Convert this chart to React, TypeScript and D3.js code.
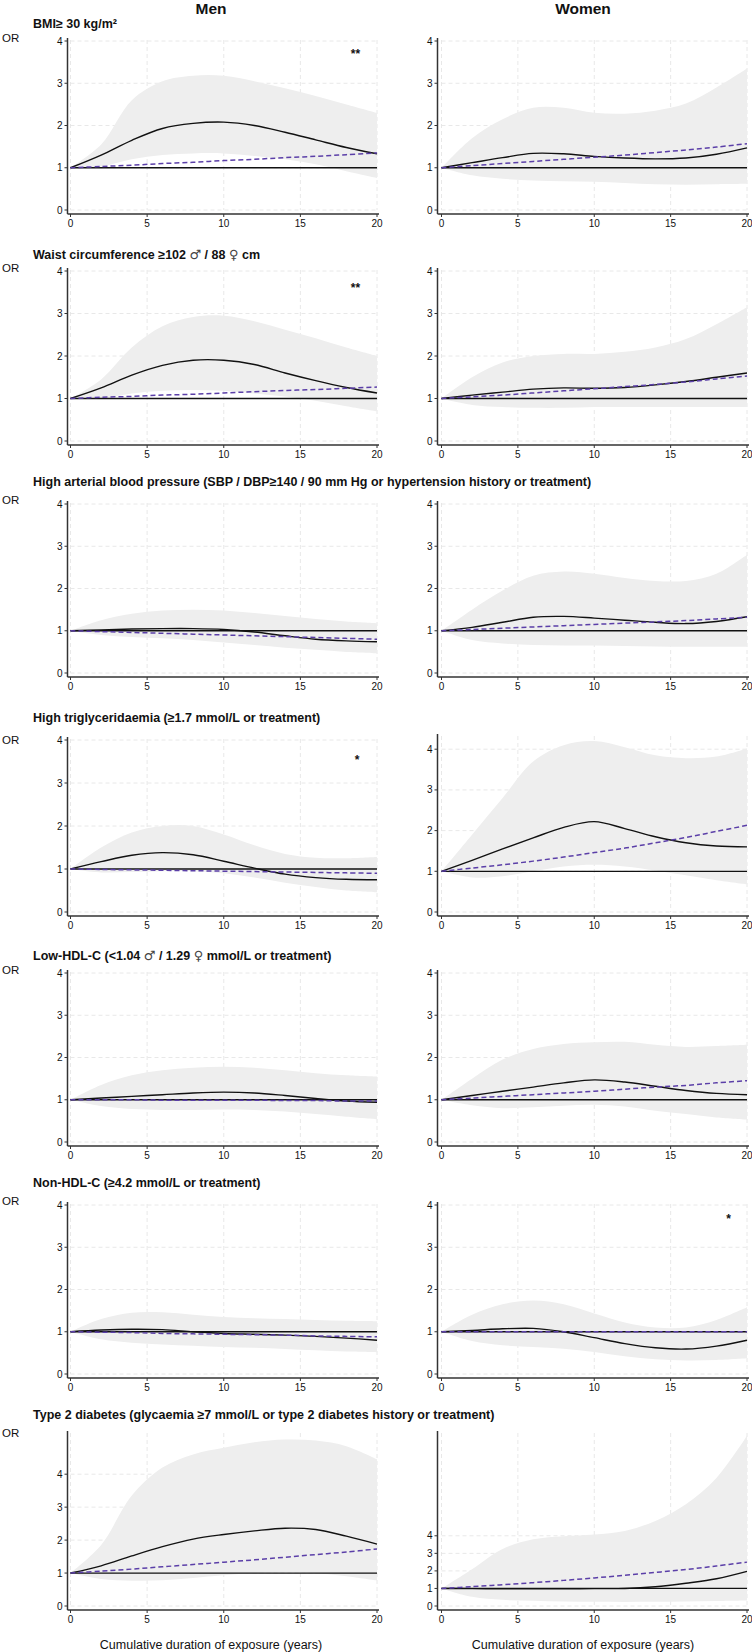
import React, { useEffect, useRef } from 'react';
import * as d3 from 'd3';

// cumulative duration of exposure (years) at which curves were read
const years = [0, 2, 4, 6, 8, 10, 12, 14, 16, 18, 20];
const xTicks = [0, 5, 10, 15, 20];
const yTicks = [0, 1, 2, 3, 4];
const sexes = ['Men', 'Women'];

const titles = [
  'BMI\u2265 30 kg/m\u00b2',
  'Waist circumference \u2265102 \u2642 / 88 \u2640 cm',
  'High arterial blood pressure (SBP / DBP\u2265140 / 90 mm Hg or hypertension history or treatment)',
  'High triglyceridaemia (\u22651.7 mmol/L or treatment)',
  'Low-HDL-C (<1.04 \u2642 / 1.29 \u2640 mmol/L or treatment)',
  'Non-HDL-C (\u22654.2 mmol/L or treatment)',
  'Type 2 diabetes (glycaemia \u22657 mmol/L or type 2 diabetes history or treatment)',
];

// OR (spline), OR (linear model), lower / upper 95% CI of spline
const bmiMen = {
  or: [1.0, 1.3, 1.65, 1.93, 2.05, 2.08, 2.0, 1.84, 1.66, 1.48, 1.33],
  linear: [1.0, 1.03, 1.06, 1.1, 1.13, 1.17, 1.2, 1.24, 1.27, 1.31, 1.35],
  lower: [1.0, 1.03, 1.2, 1.3, 1.34, 1.34, 1.28, 1.2, 1.08, 0.92, 0.76],
  upper: [1.0, 1.55, 2.6, 3.05, 3.18, 3.18, 3.05, 2.88, 2.7, 2.5, 2.3],
};
const bmiWomen = {
  or: [1.0, 1.12, 1.24, 1.34, 1.33, 1.27, 1.23, 1.21, 1.23, 1.32, 1.47],
  linear: [1.0, 1.05, 1.1, 1.15, 1.2, 1.25, 1.3, 1.36, 1.42, 1.49, 1.57],
  lower: [1.0, 0.82, 0.74, 0.7, 0.68, 0.67, 0.64, 0.61, 0.6, 0.61, 0.62],
  upper: [1.0, 1.7, 2.15, 2.42, 2.42, 2.3, 2.28, 2.35, 2.52, 2.9, 3.35],
};
const waistMen = {
  or: [1.0, 1.25, 1.55, 1.78, 1.9, 1.9, 1.8, 1.6, 1.42, 1.26, 1.13],
  linear: [1.0, 1.03, 1.05, 1.08, 1.1, 1.13, 1.16, 1.19, 1.21, 1.24, 1.27],
  lower: [1.0, 1.0, 1.12, 1.18, 1.2, 1.18, 1.12, 1.05, 0.95, 0.82, 0.7],
  upper: [1.0, 1.45, 2.2, 2.7, 2.92, 2.95, 2.82, 2.62, 2.42, 2.2, 2.0],
};
const waistWomen = {
  or: [1.0, 1.08, 1.15, 1.22, 1.25, 1.24, 1.26, 1.32, 1.4, 1.5, 1.6],
  linear: [1.0, 1.04, 1.08, 1.13, 1.18, 1.23, 1.28, 1.33, 1.39, 1.46, 1.53],
  lower: [1.0, 0.85, 0.8, 0.78, 0.78, 0.8, 0.8, 0.8, 0.8, 0.8, 0.8],
  upper: [1.0, 1.5, 1.85, 2.0, 2.05, 2.05, 2.1, 2.2, 2.4, 2.75, 3.15],
};
const bpMen = {
  or: [1.0, 1.02, 1.04, 1.05, 1.05, 1.03, 0.97, 0.88, 0.8, 0.76, 0.74],
  linear: [1.0, 0.98, 0.96, 0.94, 0.92, 0.9, 0.88, 0.86, 0.84, 0.82, 0.8],
  lower: [1.0, 0.9, 0.85, 0.82, 0.78, 0.72, 0.66, 0.6, 0.55, 0.5, 0.47],
  upper: [1.0, 1.25, 1.4, 1.48, 1.5, 1.48, 1.42, 1.35, 1.28, 1.22, 1.18],
};
const bpWomen = {
  or: [1.0, 1.08, 1.2, 1.32, 1.34, 1.3, 1.25, 1.2, 1.17, 1.22, 1.33],
  linear: [1.0, 1.03, 1.06, 1.09, 1.12, 1.15, 1.18, 1.21, 1.24, 1.28, 1.32],
  lower: [1.0, 0.78, 0.7, 0.66, 0.65, 0.65, 0.64, 0.63, 0.62, 0.62, 0.62],
  upper: [1.0, 1.5, 1.95, 2.3, 2.4, 2.35, 2.25, 2.18, 2.18, 2.35, 2.8],
};
const tgMen = {
  or: [1.0, 1.17, 1.32, 1.38, 1.33, 1.18, 1.02, 0.88, 0.8, 0.76, 0.75],
  linear: [1.0, 0.99, 0.98, 0.97, 0.96, 0.95, 0.94, 0.93, 0.92, 0.91, 0.9],
  lower: [1.0, 0.92, 0.93, 0.95, 0.95, 0.9, 0.8, 0.68, 0.58, 0.5, 0.46],
  upper: [1.0, 1.5, 1.85, 2.0, 2.0, 1.8, 1.55, 1.35, 1.26, 1.25, 1.28],
};
const tgWomen = {
  or: [1.0, 1.27, 1.55, 1.82, 2.08, 2.22, 2.05, 1.85, 1.7, 1.62, 1.6],
  linear: [1.0, 1.08, 1.16, 1.25, 1.35, 1.46, 1.57, 1.7, 1.83, 1.98, 2.13],
  lower: [1.0, 0.85, 0.88, 1.0, 1.12, 1.16, 1.12, 1.02, 0.9, 0.78, 0.68],
  upper: [1.0, 1.9, 2.8, 3.7, 4.1, 4.2, 4.05, 3.85, 3.78, 3.82, 4.02],
};
const hdlMen = {
  or: [1.0, 1.04, 1.08, 1.12, 1.16, 1.18, 1.16, 1.1, 1.03, 0.97, 0.94],
  linear: [1.0, 1.0, 1.0, 0.99, 0.99, 0.99, 0.99, 0.98, 0.98, 0.97, 0.97],
  lower: [1.0, 0.85, 0.78, 0.76, 0.76, 0.77, 0.76, 0.72, 0.66, 0.6, 0.54],
  upper: [1.0, 1.35, 1.58, 1.7, 1.76, 1.78, 1.76, 1.7, 1.63, 1.58, 1.55],
};
const hdlWomen = {
  or: [1.0, 1.1, 1.2, 1.3, 1.4, 1.47, 1.42, 1.32, 1.22, 1.15, 1.12],
  linear: [1.0, 1.04, 1.08, 1.12, 1.16, 1.2, 1.25, 1.3, 1.34, 1.4, 1.45],
  lower: [1.0, 0.87, 0.8, 0.82, 0.86, 0.88, 0.84, 0.74, 0.66, 0.58, 0.53],
  upper: [1.0, 1.5, 1.95, 2.2, 2.32, 2.36, 2.37, 2.3, 2.25, 2.27, 2.3],
};
const nonHdlMen = {
  or: [1.0, 1.04, 1.06, 1.05, 1.0, 0.96, 0.94, 0.92, 0.89, 0.85, 0.8],
  linear: [1.0, 0.99, 0.98, 0.96, 0.95, 0.94, 0.93, 0.92, 0.9, 0.89, 0.88],
  lower: [1.0, 0.82, 0.74, 0.7, 0.67, 0.64, 0.62, 0.59, 0.56, 0.53, 0.51],
  upper: [1.0, 1.3, 1.45, 1.46, 1.4, 1.35, 1.32, 1.3, 1.28, 1.26, 1.25],
};
const nonHdlWomen = {
  or: [1.0, 1.03, 1.07, 1.08, 1.0, 0.86, 0.72, 0.62, 0.59, 0.66, 0.8],
  linear: [1.0, 1.0, 1.0, 1.0, 1.0, 1.0, 1.0, 1.0, 1.0, 1.0, 1.0],
  lower: [1.0, 0.78, 0.68, 0.64, 0.6, 0.52, 0.42, 0.35, 0.32, 0.33, 0.37],
  upper: [1.0, 1.4, 1.65, 1.74, 1.65, 1.43, 1.22, 1.1, 1.1, 1.28, 1.58],
};
const t2dMen = {
  or: [1.0, 1.22, 1.52, 1.8, 2.03, 2.17, 2.28, 2.36, 2.32, 2.12, 1.88],
  linear: [1.0, 1.06, 1.12, 1.19, 1.26, 1.33, 1.4, 1.48, 1.56, 1.64, 1.73],
  lower: [1.0, 0.82, 0.77, 0.78, 0.85, 0.93, 1.0, 1.03, 1.0, 0.9, 0.77],
  upper: [1.0, 1.85, 3.35, 4.2, 4.6, 4.8, 4.97, 5.05, 5.02, 4.85, 4.45],
};
const t2dWomen = {
  or: [1.0, 0.99, 0.98, 0.98, 0.98, 0.99, 1.0, 1.1, 1.3, 1.55, 1.97],
  linear: [1.0, 1.1, 1.21, 1.33, 1.46, 1.6, 1.75, 1.91, 2.08, 2.28, 2.5],
  lower: [1.0, 0.52, 0.35, 0.3, 0.26, 0.24, 0.23, 0.24, 0.26, 0.29, 0.32],
  upper: [1.0, 2.1, 3.25, 3.8, 3.98, 4.08, 4.28, 4.85, 5.8, 7.3, 9.7],
};

const panels = [
  [bmiMen, bmiWomen],
  [waistMen, waistWomen],
  [bpMen, bpWomen],
  [tgMen, tgWomen],
  [hdlMen, hdlWomen],
  [nonHdlMen, nonHdlWomen],
  [t2dMen, t2dWomen],
];

// upper end of each panel's y scale
const yMax = [[4, 4], [4, 4], [4, 4], [4, 4.3], [4, 4], [4, 4], [5.22, 9.8]];

// significance marks: row, column, position in data units
const stars = [
  { row: 0, col: 0, x: 18.6, y: 3.72, label: '**' },
  { row: 1, col: 0, x: 18.6, y: 3.62, label: '**' },
  { row: 3, col: 0, x: 18.7, y: 3.55, label: '*' },
  { row: 5, col: 1, x: 18.8, y: 3.7, label: '*' },
];

const App: React.FC = () => {
  const svgRef = useRef<SVGSVGElement>(null);

  useEffect(() => {
    if (!svgRef.current) return;
    const svg = d3.select(svgRef.current);
    svg.selectAll('*').remove();

    const font = '"Liberation Sans", Arial, sans-serif';
    const width = 752;
    const height = 1652;
    svg.attr('width', width).attr('height', height).style('font-family', font);

    // layout
    const colX0 = [70.5, 441.5];
    const colX20 = [377, 747];
    const colAxis = [67.5, 437.5];
    const colCenter = [211, 583];
    const rowBottom = [210, 441, 673, 912, 1142, 1374, 1606];
    const panelTop = [[41, 41], [271, 271], [504, 504], [740, 737], [973, 973], [1205, 1205], [1434, 1434]];
    const titleY = [27.5, 258.5, 486, 722, 959.5, 1186.5, 1418.5];
    const orY = [42, 272, 504, 744, 974, 1205, 1437];

    sexes.forEach((s, c) => {
      svg.append('text')
        .attr('x', colCenter[c])
        .attr('y', 14)
        .attr('text-anchor', 'middle')
        .style('font-size', '15.5px')
        .style('font-weight', 'bold')
        .attr('fill', '#111')
        .text(s);
      svg.append('text')
        .attr('x', colCenter[c])
        .attr('y', 1649)
        .attr('text-anchor', 'middle')
        .style('font-size', '12.5px')
        .attr('fill', '#111')
        .text('Cumulative duration of exposure (years)');
    });

    panels.forEach((row, r) => {
      // sex symbols are drawn with a font that has them
      const title = svg.append('text')
        .attr('x', 33)
        .attr('y', titleY[r])
        .style('font-size', '12.5px')
        .style('font-weight', 'bold')
        .attr('fill', '#111');
      titles[r].split(/([\u2640\u2642])/).forEach(part => {
        if (!part) return;
        const t = title.append('tspan').text(part);
        if (part === '\u2640' || part === '\u2642') {
          t.style('font-family', '"DejaVu Sans", sans-serif')
            .style('font-weight', 'normal')
            .style('font-size', '13px')
            .attr('fill', '#444');
        }
      });

      svg.append('text')
        .attr('x', 2)
        .attr('y', orY[r])
        .style('font-size', '11.5px')
        .attr('fill', '#111')
        .text('OR');

      row.forEach((d, c) => {
        const bottom = rowBottom[r];
        const top = panelTop[r][c];
        const x = d3.scaleLinear().domain([0, 20]).range([colX0[c], colX20[c]]);
        const y = d3.scaleLinear().domain([0, yMax[r][c]]).range([bottom, top]);
        const g = svg.append('g');

        // dashed grid
        g.selectAll('.hgrid')
          .data(yTicks)
          .enter().append('line')
          .attr('x1', x(0)).attr('x2', x(20))
          .attr('y1', v => y(v)).attr('y2', v => y(v))
          .attr('stroke', '#e2e2e2')
          .attr('stroke-width', 0.8)
          .attr('stroke-dasharray', '4,3');
        g.selectAll('.vgrid')
          .data(xTicks)
          .enter().append('line')
          .attr('x1', v => x(v)).attr('x2', v => x(v))
          .attr('y1', top - 1).attr('y2', bottom)
          .attr('stroke', '#e2e2e2')
          .attr('stroke-width', 0.8)
          .attr('stroke-dasharray', '4,3');

        // confidence band
        const area = d3.area<number>()
          .x((_, i) => x(years[i]))
          .y0((_, i) => y(d.lower[i]))
          .y1((_, i) => y(d.upper[i]))
          .curve(d3.curveCatmullRom.alpha(0.5));
        g.append('path')
          .datum(d.upper)
          .attr('d', area)
          .attr('fill', '#eeeeee');

        // reference OR = 1
        g.append('line')
          .attr('x1', x(0)).attr('x2', x(20))
          .attr('y1', y(1)).attr('y2', y(1))
          .attr('stroke', '#111')
          .attr('stroke-width', 1.3);

        const line = d3.line<number>()
          .x((_, i) => x(years[i]))
          .y(v => y(v))
          .curve(d3.curveCatmullRom.alpha(0.5));

        g.append('path')
          .datum(d.or)
          .attr('d', line)
          .attr('fill', 'none')
          .attr('stroke', '#111')
          .attr('stroke-width', 1.4);

        g.append('path')
          .datum(d.linear)
          .attr('d', line)
          .attr('fill', 'none')
          .attr('stroke', '#5b3fa8')
          .attr('stroke-width', 1.5)
          .attr('stroke-dasharray', '5,3');

        // axes
        const axisX = colAxis[c];
        const axisY = bottom + 4;
        g.append('line')
          .attr('x1', axisX).attr('x2', axisX)
          .attr('y1', top - 3).attr('y2', axisY)
          .attr('stroke', '#333')
          .attr('stroke-width', 1.5);
        g.append('line')
          .attr('x1', axisX).attr('x2', x(20) + 2)
          .attr('y1', axisY).attr('y2', axisY)
          .attr('stroke', '#333')
          .attr('stroke-width', 1.5);

        g.selectAll('.ytick')
          .data(yTicks)
          .enter().append('line')
          .attr('x1', axisX - 3).attr('x2', axisX)
          .attr('y1', v => y(v)).attr('y2', v => y(v))
          .attr('stroke', '#333')
          .attr('stroke-width', 1);
        g.selectAll('.ylab')
          .data(yTicks)
          .enter().append('text')
          .attr('x', axisX - 5)
          .attr('y', v => y(v) + 3.5)
          .attr('text-anchor', 'end')
          .style('font-size', '10px')
          .attr('fill', '#111')
          .text(v => v);

        g.selectAll('.xtick')
          .data(xTicks)
          .enter().append('line')
          .attr('x1', v => x(v)).attr('x2', v => x(v))
          .attr('y1', axisY).attr('y2', axisY + 3)
          .attr('stroke', '#333')
          .attr('stroke-width', 1);
        g.selectAll('.xlab')
          .data(xTicks)
          .enter().append('text')
          .attr('x', v => x(v))
          .attr('y', bottom + 17)
          .attr('text-anchor', 'middle')
          .style('font-size', '10px')
          .attr('fill', '#111')
          .text(v => v);

        stars
          .filter(s => s.row === r && s.col === c)
          .forEach(s => {
            g.append('text')
              .attr('x', x(s.x))
              .attr('y', y(s.y) + 5)
              .attr('text-anchor', 'middle')
              .style('font-size', '12px')
              .style('font-weight', 'bold')
              .attr('fill', '#111')
              .text(s.label);
          });
      });
    });
  }, []);

  return (
    <div style={{ position: 'absolute', left: 0, top: 0, background: '#fff' }}>
      <svg ref={svgRef} style={{ display: 'block' }}></svg>
    </div>
  );
};

export default App;
